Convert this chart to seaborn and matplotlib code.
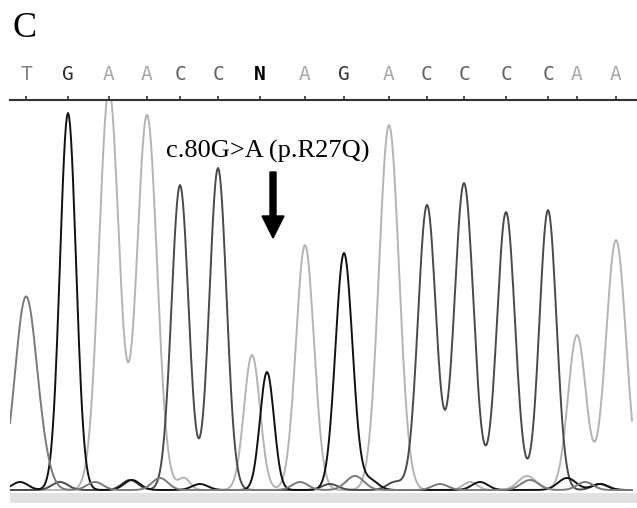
import numpy as np
import pandas as pd
import seaborn as sns
import matplotlib.pyplot as plt

# Base calls along the top axis (scan position, letter)
base_pos = [26, 68, 109, 147, 180, 218, 260, 305, 344, 389, 427, 464, 506, 548, 577, 616]
base_seq = ["T", "G", "A", "A", "C", "C", "N", "A", "G", "A", "C", "C", "C", "C", "A", "A"]

# Peaks: centre, height, width per dye channel
A_center = [109, 147, 184, 252, 305, 389, 470, 527, 577, 616]
A_height = [400, 375, 12, 135, 245, 365, 8, 14, 155, 250]
A_width = [10, 10, 6, 8, 9, 10, 7, 9, 9, 10]

C_center = [60, 130, 180, 218, 330, 395, 427, 464, 506, 548, 600]
C_height = [8, 10, 305, 322, 6, 8, 285, 307, 278, 280, 6]
C_width = [8, 8, 8.5, 8.5, 8, 8, 9, 9.5, 9, 8.5, 8]

G_center = [20, 68, 132, 200, 267, 344, 370, 480, 567, 600]
G_height = [8, 377, 10, 6, 118, 237, 10, 8, 12, 6]
G_width = [8, 8, 8, 8, 7, 8.5, 8, 8, 9, 8]

T_center = [26, 45, 95, 160, 300, 355, 440, 530, 585]
T_height = [193, 10, 8, 12, 8, 14, 6, 10, 8]
T_width = [11, 8, 8, 8, 8, 9, 8, 9, 8]

dye_colors = {"A": "#b4b4b4", "C": "#4a4a4a", "G": "#111111", "T": "#7a7a7a"}
letter_colors = {"A": "#a8a8a8", "C": "#606060", "G": "#303030", "T": "#808080", "N": "#000000"}

scan = np.arange(10, 632.5, 1.0)
rows = []
for base, cen, hgt, wid in [("A", A_center, A_height, A_width),
                            ("C", C_center, C_height, C_width),
                            ("G", G_center, G_height, G_width),
                            ("T", T_center, T_height, T_width)]:
    sig = np.zeros_like(scan)
    for c, h, w in zip(cen, hgt, wid):
        sig += h * np.exp(-0.5 * ((scan - c) / w) ** 2)
    rows.append(pd.DataFrame({"scan": scan, "signal": sig, "base": base}))
df = pd.concat(rows)

fig = plt.figure(figsize=(6.37, 5.08), dpi=100)
ax = fig.add_axes([10 / 637, 3 / 508, 627 / 637, 405 / 508])

ax.axhspan(-13, -3, color="#e2e2e2", lw=0)
sns.lineplot(data=df, x="scan", y="signal", hue="base", palette=dye_colors,
             estimator=None, legend=False, linewidth=1.4, ax=ax)

ax.set_xlim(10, 637)
ax.set_ylim(-15, 390)
for s in ["left", "right", "bottom"]:
    ax.spines[s].set_visible(False)
ax.spines["top"].set_linewidth(1.5)
ax.spines["top"].set_color("#333333")
ax.xaxis.tick_top()
ax.set_xticks(base_pos)
ax.set_xticklabels([])
ax.tick_params(axis="x", direction="out", length=3, width=1.2, color="#333333")
ax.set_yticks([])
ax.set_xlabel("")
ax.set_ylabel("")

for x, b in zip(base_pos, base_seq):
    ax.text(x, 416, b, ha="center", va="center", fontsize=14,
            family="DejaVu Sans Mono", color=letter_colors[b],
            fontweight="bold" if b == "N" else "normal", clip_on=False)

ax.text(268, 339, "c.80G>A (p.R27Q)", ha="center", va="center",
        fontsize=19, family="Liberation Serif")
ax.arrow(273, 318, 0, -66, width=6, head_width=22, head_length=22,
         length_includes_head=True, color="black")

fig.text(13 / 637, 1 - 12 / 508, "C", ha="left", va="top",
         fontsize=26, family="Liberation Serif")

fig.savefig("out.png", dpi=100)
